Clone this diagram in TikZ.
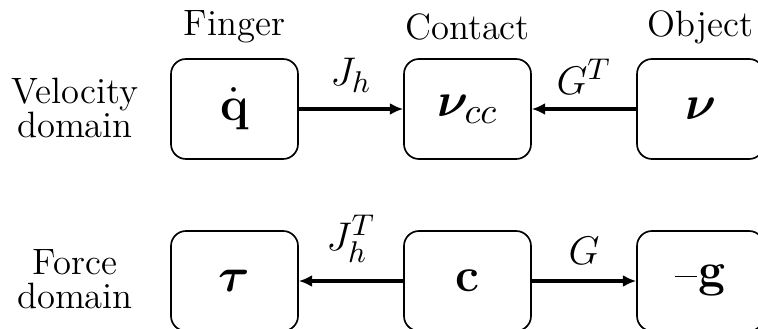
\documentclass[tikz,border=0pt]{standalone}
\usepackage{amsmath,bm}
\usetikzlibrary{arrows.meta}
\begin{document}
\begin{tikzpicture}[x=0.3pt,y=-0.3pt,
  blk/.style={draw,line width=0.5pt,rounded corners=4.5pt,minimum width=38.1pt,minimum height=30pt,inner sep=0pt,font=\fontsize{15.5}{18}\selectfont},
  conn/.style={line width=0.95pt,-{Latex[length=4pt,width=3.6pt]}},
  lbl/.style={inner sep=0pt,font=\fontsize{11}{10.2}\selectfont},
  arl/.style={inner sep=0pt,font=\fontsize{12.4}{14}\selectfont}]
\useasboundingbox (0,0) rectangle (758,329);
% top row
\node[blk] (fv) at (234.5,109) {$\dot{\mathbf q}$};
\node[blk] (cv) at (467.5,109) {$\bm{\nu}_{cc}$};
\node[blk] (ov) at (700.5,109) {$\bm{\nu}$};
% bottom row
\node[blk] (ff) at (234.5,281) {$\bm{\tau}$};
\node[blk] (cf) at (467.5,281) {$\mathbf c$};
\node[blk] (of) at (700.5,281) {\rule[3pt]{6.6pt}{0.4pt}\kern0.4pt$\mathbf g$};
% headers
\node[lbl] (h1) at (234.5,27) {Finger};
\node[lbl] (h2) at (467.5,27) {Contact};
\node[lbl] (h3) at (700.5,27) {Object};
\node[lbl,align=center] (d1) at (75,108) {Velocity\\domain};
\node[lbl,align=center] (d2) at (75,279) {Force\\domain};
% connectors
\draw[conn] (fv) -- (cv) node[arl,midway,above=4.5pt] (l1) {$J_h$};
\draw[conn] (ov) -- (cv) node[arl,midway,above=4pt] (l2) {$G^T$};
\draw[conn] (cf) -- (ff) node[arl,midway,above=5pt] (l3) {$J_h^T$};
\draw[conn] (cf) -- (of) node[arl,midway,above=4.5pt] (l4) {$G$};
\end{tikzpicture}
\end{document}
